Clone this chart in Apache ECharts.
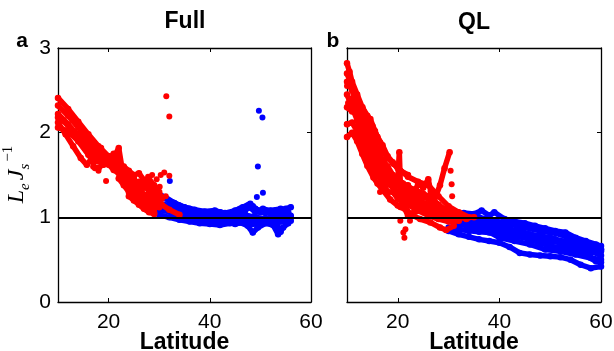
<!DOCTYPE html>
<html>
<head>
<meta charset="utf-8">
<script src="https://cdn.jsdelivr.net/npm/echarts@6/dist/echarts.min.js"></script>
<style>
html,body{margin:0;padding:0;background:#fff;}
#chart{width:614px;height:351px;}
</style>
</head>
<body>
<div id="chart"></div>
<script>
// ---- Data ----
const latTicks = [20, 40, 60];
const yTicks = [0, 1, 2, 3];
const panelTitles = ['Full', 'QL'];
const panelLetters = ['a', 'b'];
const refLevel = 1;

// Panel a (Full): red tracks (latitude, LeJs^-1)
const fullRedTracks = [
  [[10,2.41],[12,2.28],[14,2.13],[16,1.98],[18,1.84],[20,1.72],[21.5,1.62],[23,1.5],[24.5,1.42],[26,1.32],[27.5,1.25],[29,1.2],[30.5,1.15],[32,1.09],[34,1.03]],
  [[10,2.32],[12,2.2],[14,2.06],[16,1.92],[17.5,1.8],[19,1.7]],
  [[10,2.22],[12,2.1],[14,1.96],[16,1.83],[17.5,1.72]],
  [[10,2.12],[11.5,1.98],[13,1.84],[14.5,1.7],[15.7,1.62],[16.5,1.68],[17.5,1.78],[18.5,1.82]],
  [[10,2.06],[12,2.02],[14,1.9],[16,1.74],[17,1.66]],
  [[10,2.18],[11,2.14],[12.5,2.05],[14,1.98],[15.5,1.88],[17,1.76]],
  [[17,1.8],[18,1.66],[19,1.75],[20,1.62],[21,1.7],[22,1.82],[22.6,1.6],[24,1.52],[25,1.42],[26,1.36],[27,1.25],[28,1.16],[29,1.1]],
  [[17,1.6],[18,1.58],[19.5,1.66],[21,1.56],[22,1.52],[23,1.48],[24,1.4],[25,1.46],[26,1.3],[27,1.4],[28,1.3],[29,1.2],[30,1.12]],
  [[20,1.72],[21,1.63],[22,1.55],[23,1.45],[24,1.34],[25,1.26],[26,1.2],[27,1.14],[28,1.08],[29,1.05]],
  [[22,1.46],[23,1.38],[24,1.3],[25,1.33],[26,1.42],[27,1.35],[28,1.45],[29,1.38],[30,1.3],[30.5,1.22]],
  [[23,1.6],[24,1.55],[25,1.5],[26,1.52],[27,1.44],[28,1.38],[29,1.28],[30,1.2]],
  [[18,1.72],[19,1.62],[20,1.68],[21,1.75],[22,1.66],[23,1.55],[24,1.45],[25,1.35],[26,1.26],[27,1.2],[28,1.22],[29,1.15]],
  [[24,1.25],[25,1.2],[26,1.15],[27,1.1],[28,1.06],[29,1.04]]
];
const fullRedDots = [[31.4,2.43],[32,2.19],[19.5,1.43],[30.3,1.5],[31,1.53],[32,1.49],[31.3,1.25],[29.5,1.45],[28.6,1.5],[30.1,1.36],[27.8,1.48],[29.2,1.32],[18,1.55],[17.3,1.58]];

// Panel a (Full): blue tracks
const fullBlueTracks = [
  [[29.5,1.22],[30.5,1.25],[32,1.2],[33,1.17],[35,1.12],[37,1.09],[39,1.07],[41,1.08],[43,1.05],[45,1.08],[46.5,1.12],[48,1.16],[49,1.1],[51,1.05],[53,1.08],[55,1.1],[56,1.12]],
  [[29.5,1.1],[31,1.08],[33,1.05],[35,1.02],[37,1.0],[39,0.98],[41,1.0],[43,0.97],[45,0.99],[47,1.03],[49,1.0],[51,0.98],[53,1.0],[55,0.98],[56,1.02]],
  [[30,1.03],[32,1.0],[34,0.97],[36,0.95],[38,0.93],[40,0.92],[42,0.91],[44,0.93],[46,0.94],[47.5,0.9],[48.5,0.82],[49.5,0.88],[51,0.93],[52.5,0.91],[53.5,0.8],[54.5,0.88],[55.5,0.93]],
  [[31,1.15],[33,1.12],[35,1.07],[37,1.05],[39,1.03],[41,1.01],[43,1.02],[45,1.04],[47,1.09],[48.5,1.13],[50,1.06],[52,1.05],[54,1.04],[56,1.0]],
  [[30,1.16],[32,1.13],[34,1.08],[36,1.03],[38,1.0],[40,0.97],[42,0.98],[44,0.95],[46,0.96],[48,0.97],[50,0.94],[52,0.97],[54,0.95],[56,0.96]],
  [[33,1.02],[35,0.99],[37,0.96],[39,0.95],[41,0.94],[43,0.95],[45,0.92],[47,0.95],[49,0.93],[51,0.96],[53,0.94],[55,0.96]],
  [[31.5,1.22],[34,1.14],[36,1.1],[38,1.06],[40,1.05],[42,1.06],[44,1.04],[46,1.1],[47.5,1.14],[49,1.06],[50.5,1.1],[52,1.08],[54,1.1],[55.5,1.06]],
  [[46.5,1.08],[47.5,1.0],[48.5,0.92]],
  [[52,1.05],[53,0.95],[54,0.83]]
];
const fullBlueDots = [[49.7,2.26],[50.4,2.18],[49.5,1.6],[50.5,1.29],[49.3,1.24],[32.1,1.43],[30,1.27]];

// Panel b (QL): red tracks
const qlRedTracks = [
  [[10,2.82],[10.5,2.72],[11,2.6],[12,2.45],[13,2.3],[14,2.18],[15,2.08],[16,1.95],[17,1.85],[18,1.72],[19,1.65],[20,1.58],[22,1.48],[24,1.42],[26,1.38],[28,1.25],[30,1.13],[32,1.06],[34,1.0]],
  [[10,2.6],[11,2.5],[12,2.3],[13,2.12],[14,2.0],[15,1.85],[16,1.72],[17,1.62],[18,1.55],[20,1.45],[22,1.35],[24,1.3],[26,1.25],[28,1.15],[30,1.05],[32,1.02],[33.5,0.98]],
  [[10,2.45],[11,2.3],[12,2.15],[13,1.95],[14,1.8],[15,1.66],[16,1.56],[17,1.47],[18,1.4],[20,1.3],[22,1.2],[24,1.15],[26,1.1],[28,1.05],[30,1.0]],
  [[10,1.95],[11,2.0],[12,1.9],[13,1.75],[14,1.61],[15.2,1.47],[16,1.4],[17.2,1.31],[18.5,1.21],[20,1.14],[21.8,1.08],[23,1.02],[24.4,0.98],[26.4,0.94],[28.3,0.88],[29.5,0.85],[31,0.9]],
  [[10,2.3],[11,2.25],[12,2.32],[13,2.3],[14,2.2],[14.6,2.16],[15.5,2.02],[16.5,1.88],[17.2,1.78],[18,1.7],[19.2,1.63],[20.5,1.55],[22,1.5]],
  [[22,1.3],[24,1.25],[26,1.22],[27,1.17],[28.3,1.38],[29.2,1.58],[30.2,1.77]],
  [[20,1.45],[20.3,1.77],[20.5,1.4],[21,1.3],[22,1.38],[23,1.25],[24,1.4],[25,1.35],[26,1.45],[26.5,1.3],[27,1.2]],
  [[18,1.5],[20,1.25],[21,1.15],[22,1.02],[23,1.05],[25,1.1],[27,1.05],[29,1.0],[31,0.98],[33,1.0],[35,1.0]],
  [[10,2.7],[11,2.55],[12,2.42],[13,2.22],[14,2.08],[15,1.95],[16,1.8],[17,1.68],[18,1.6],[19,1.5],[21,1.4],[23,1.33],[25,1.28],[27,1.2],[29,1.1],[31,1.02]],
  [[10,2.1],[11,2.12],[12,2.02],[13,1.86],[14,1.72],[15,1.58],[16,1.5],[17,1.42],[18,1.3],[19,1.3],[20,1.22],[22,1.15],[24,1.08],[26,1.02],[28,0.98],[30,0.95],[32,0.96]],
  [[11,2.4],[12,2.25],[13,2.05],[14,1.9],[15,1.75],[16,1.65],[17,1.55],[18,1.48],[19,1.42],[20,1.38],[22,1.25],[24,1.2],[26,1.15],[28,1.1],[30,1.08],[32,1.05]]
];
const qlRedDots = [[20.5,0.96],[21.1,0.82],[21.3,0.76],[21.5,0.86],[20.5,1.12],[22.4,0.96],[30.4,1.55],[30.6,1.39],[30.7,1.25],[10,2.55],[10.2,2.35],[10,2.1],[17,1.35],[16.5,1.3]];

// Panel b (QL): blue tracks
const qlBlueTracks = [
  [[29.5,1.05],[31,1.03],[33,1.05],[35,1.04],[36.5,1.08],[38,1.02],[39,1.06],[41,0.98],[43,0.95],[45,0.93],[47,0.9],[49,0.87],[51,0.84],[53,0.82],[55,0.76],[57,0.72],[59,0.68],[60,0.66]],
  [[30,0.97],[32,0.98],[34,0.97],[36,0.95],[38,0.92],[40,0.9],[42,0.86],[44,0.84],[46,0.8],[48,0.78],[50,0.76],[52,0.72],[54,0.68],[56,0.64],[58,0.6],[60,0.55]],
  [[30,0.88],[32,0.86],[34,0.84],[36,0.83],[38,0.82],[40,0.8],[42,0.78],[44,0.77],[46,0.74],[48,0.7],[50,0.66],[52,0.64],[54,0.62],[56,0.6],[58,0.58],[60,0.62]],
  [[30,0.84],[32,0.8],[34,0.77],[36,0.74],[38,0.72],[40,0.7],[42,0.65],[44,0.58],[46,0.56],[48,0.55],[50,0.54],[52,0.53],[54,0.5],[56,0.44],[58,0.4],[60,0.42]],
  [[35,0.92],[37,0.88],[40,0.85],[43,0.82],[46,0.76],[48,0.73],[50,0.72],[52,0.7],[55,0.62],[57,0.55],[59,0.48],[60,0.47]],
  [[33,0.95],[36,0.9],[39,0.87],[42,0.83],[45,0.8],[48,0.77],[51,0.74],[54,0.7],[57,0.66],[60,0.6]],
  [[31,0.92],[34,0.9],[37,0.86],[40,0.76],[43,0.72],[46,0.68],[49,0.62],[52,0.6],[55,0.56],[58,0.52],[60,0.5]],
  [[36,1.0],[39,0.96],[42,0.92],[45,0.88],[48,0.84],[50,0.82],[52,0.8],[54,0.74],[56,0.7],[58,0.66],[60,0.62]]
];

// ---- Chart ----
const chart = echarts.init(document.getElementById('chart'), null, {renderer: 'canvas'});
const RED = '#ff0000', BLUE = '#0000ff';
const tickFont = {fontFamily: 'Liberation Sans, Arial, sans-serif', fontSize: 21, color: '#000'};
const grids = [
  {left: 58, top: 48, width: 253, height: 254, outerBoundsMode: 'none', containLabel: false},
  {left: 347, top: 48, width: 254, height: 254, outerBoundsMode: 'none', containLabel: false}
];

function xAxes(gi) {
  const common = {
    type: 'value', gridIndex: gi, min: 10, max: 60, interval: 10,
    axisLine: {onZero: false, lineStyle: {color: '#000', width: 1.3}},
    splitLine: {show: false},
    axisTick: {inside: true, length: 4, customValues: latTicks, lineStyle: {color: '#000', width: 1}}
  };
  return [
    Object.assign({}, common, {
      position: 'bottom',
      axisLabel: Object.assign({customValues: latTicks, margin: 10}, tickFont),
      name: 'Latitude', nameLocation: 'middle', nameGap: 29, nameMoveOverlap: false,
      nameTextStyle: {fontFamily: 'Liberation Sans, Arial, sans-serif', fontSize: 23, fontWeight: 'bold', color: '#000'}
    }),
    Object.assign({}, common, {position: 'top', axisLabel: {show: false}})
  ];
}
function yAxes(gi) {
  const common = {
    type: 'value', gridIndex: gi, min: 0, max: 3, interval: 1,
    axisLine: {onZero: false, lineStyle: {color: '#000', width: 1.3}},
    splitLine: {show: false},
    axisTick: {inside: true, length: 4, lineStyle: {color: '#000', width: 1}}
  };
  const left = Object.assign({}, common, {
    position: 'left',
    axisLabel: Object.assign({show: gi === 0, margin: 7}, tickFont)
  });
  if (gi === 0) {
    left.name = '{L|L}{sub|e}{L|J}{sub|s}{sup|−1}';
    left.nameLocation = 'middle';
    left.nameRotate = 90;
    left.nameGap = 25;
    left.nameMoveOverlap = false;
    left.nameTextStyle = {
      rich: {
        L: {fontFamily: 'Liberation Serif, serif', fontStyle: 'italic', fontSize: 24, lineHeight: 32, padding: [0, 0, 0, 1], color: '#000'},
        sub: {fontFamily: 'Liberation Serif, serif', fontStyle: 'italic', fontSize: 15, lineHeight: 15, padding: [0, 2, 0, 0], verticalAlign: 'bottom', color: '#000'},
        sup: {fontFamily: 'Liberation Serif, serif', fontSize: 15, lineHeight: 15, verticalAlign: 'top', color: '#000'}
      }
    };
  }
  return [left, Object.assign({}, common, {position: 'right', axisLabel: {show: false}})];
}

const series = [];
function addTracks(tracks, color, xi, yi) {
  tracks.forEach(t => series.push({
    type: 'line', xAxisIndex: xi, yAxisIndex: yi, data: t,
    symbol: 'circle', symbolSize: 6.5, showSymbol: true,
    itemStyle: {color: color}, lineStyle: {color: color, width: 5.5, cap: 'round', join: 'round'},
    silent: true, animation: false, z: color === RED ? 4 : 3
  }));
}
function addDots(dots, color, xi, yi) {
  series.push({
    type: 'scatter', xAxisIndex: xi, yAxisIndex: yi, data: dots,
    symbol: 'circle', symbolSize: 6, itemStyle: {color: color, opacity: 1},
    silent: true, animation: false, z: color === RED ? 4 : 3
  });
}
addTracks(fullBlueTracks, BLUE, 0, 0);
addDots(fullBlueDots, BLUE, 0, 0);
addTracks(fullRedTracks, RED, 0, 0);
addDots(fullRedDots, RED, 0, 0);
addTracks(qlBlueTracks, BLUE, 2, 2);
addTracks(qlRedTracks, RED, 2, 2);
addDots(qlRedDots, RED, 2, 2);
// reference line y = 1 in both panels
[0, 2].forEach(i => series.push({
  type: 'line', xAxisIndex: i, yAxisIndex: i, data: [],
  markLine: {silent: true, symbol: 'none', label: {show: false}, animation: false,
    lineStyle: {color: '#000', width: 2, type: 'solid'}, data: [{yAxis: refLevel}]},
  z: 5
}));

const titleFont = 'bold 23px Liberation Sans, Arial, sans-serif';
const letterFont = 'bold 21px Liberation Sans, Arial, sans-serif';
const graphic = [
  {type: 'text', x: 185, y: 22, style: {text: panelTitles[0], fill: '#000', font: titleFont, align: 'center', verticalAlign: 'middle'}},
  {type: 'text', x: 474, y: 23, style: {text: panelTitles[1], fill: '#000', font: titleFont, align: 'center', verticalAlign: 'middle'}},
  {type: 'text', x: 22, y: 41, style: {text: panelLetters[0], fill: '#000', font: letterFont, align: 'center', verticalAlign: 'middle'}},
  {type: 'text', x: 333, y: 41, style: {text: panelLetters[1], fill: '#000', font: letterFont, align: 'center', verticalAlign: 'middle'}}
];

chart.setOption({
  animation: false,
  backgroundColor: '#fff',
  grid: grids,
  xAxis: [].concat(xAxes(0), xAxes(1)),
  yAxis: [].concat(yAxes(0), yAxes(1)),
  series: series,
  graphic: graphic
});
</script>
</body>
</html>
